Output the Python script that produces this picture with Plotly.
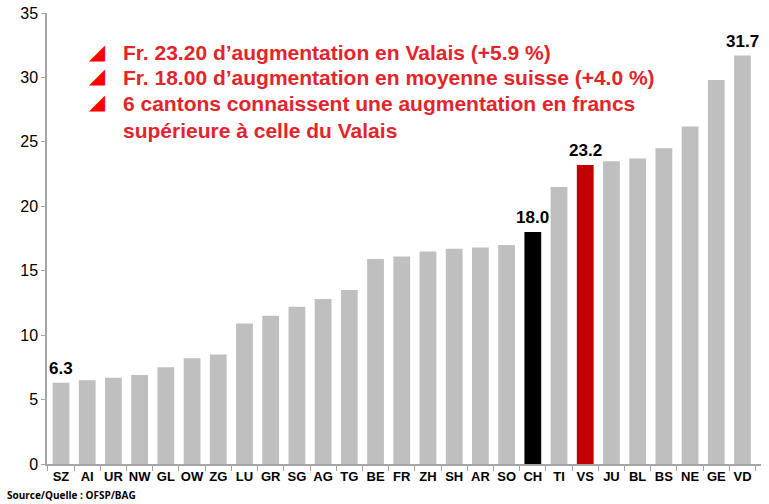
import plotly.graph_objects as go

cantons = ["SZ", "AI", "UR", "NW", "GL", "OW", "ZG", "LU", "GR", "SG", "AG", "TG", "BE",
           "FR", "ZH", "SH", "AR", "SO", "CH", "TI", "VS", "JU", "BL", "BS", "NE", "GE", "VD"]
values = [6.3, 6.5, 6.7, 6.9, 7.5, 8.2, 8.5, 10.9, 11.5, 12.2, 12.8, 13.5, 15.9,
          16.1, 16.5, 16.7, 16.8, 17.0, 18.0, 21.5, 23.2, 23.5, 23.7, 24.5, 26.2, 29.8, 31.7]
labelled = ["SZ", "CH", "VS", "VD"]
y_ticks = [0, 5, 10, 15, 20, 25, 30, 35]

bullets = [
    "Fr. 23.20 d’augmentation en Valais (+5.9 %)",
    "Fr. 18.00 d’augmentation en moyenne suisse (+4.0 %)",
    "6 cantons connaissent une augmentation en francs<br>supérieure à celle du Valais",
]
source = "Source/Quelle : OFSP/BAG"

colors = []
for c in cantons:
    if c == "CH":
        colors.append("#000000")
    elif c == "VS":
        colors.append("#c00000")
    else:
        colors.append("#bfbfbf")

fig = go.Figure(go.Bar(
    x=cantons, y=values, marker=dict(color=colors, line=dict(width=0)),
))

RED = "#e3242b"
annos = []
for c, v in zip(cantons, values):
    if c in labelled:
        annos.append(dict(xref="x", yref="y", x=c, y=v, text=f"<b>{v:.1f}</b>", showarrow=False,
                          xanchor="center", yanchor="bottom", yshift=3,
                          font=dict(family="Liberation Sans, Arial", size=17, color="#000000")))
ypos = [31.9, 30.0, 28.05]
for t, yp in zip(bullets, ypos):
    annos.append(dict(xref="paper", yref="y", x=0.056, y=yp, text="◢", showarrow=False,
                      xanchor="left", yanchor="middle", yshift=1,
                      font=dict(family="DejaVu Sans", size=21, color="#ff0000")))
    annos.append(dict(xref="paper", yref="y", x=0.104, y=yp, text="<b>" + t + "</b>",
                      showarrow=False, xanchor="left", yanchor="top" if "<br>" in t else "middle",
                      yshift=13 if "<br>" in t else 0, align="left",
                      font=dict(family="Liberation Sans, Arial", size=21, color=RED)))
annos.append(dict(xref="paper", yref="paper", x=-0.0588, y=-0.069, text="<b>" + source + "</b>",
                  showarrow=False, xanchor="left", yanchor="middle",
                  font=dict(family="Open Sans, Liberation Sans", size=10, color="#000000")))

fig.update_layout(
    width=769, height=504, margin=dict(l=47, r=8, t=13, b=40, autoexpand=False),
    paper_bgcolor="white", plot_bgcolor="white", showlegend=False,
    bargap=0.36, annotations=annos,
    font=dict(family="Liberation Sans, Arial"),
)
fig.update_yaxes(range=[0, 35], tickvals=y_ticks, showgrid=False, zeroline=False,
                 showline=True, linecolor="#a6a6a6", linewidth=1.5,
                 ticks="outside", ticklen=4, tickcolor="#a6a6a6", automargin=False,
                 ticklabeloverflow="allow",
                 tickfont=dict(size=16, color="#000000"))
fig.update_xaxes(showgrid=False, showline=True, linecolor="#a6a6a6", linewidth=1.5,
                 ticks="outside", tickson="boundaries", ticklen=5, tickcolor="#a6a6a6",
                 tickangle=0, automargin=False, ticklabeloverflow="allow",
                 tickfont=dict(size=13, color="#000000", family="Liberation Sans, Arial"),
                 tickprefix="<b>", ticksuffix="</b>")

fig.write_html("out.html", config={"displayModeBar": False},
               post_script="document.body.style.margin='0';")
